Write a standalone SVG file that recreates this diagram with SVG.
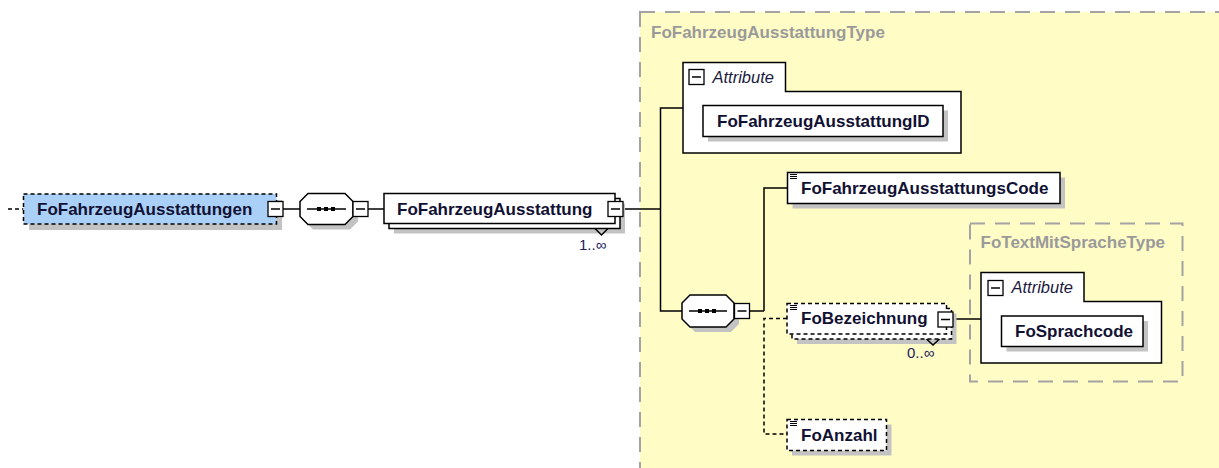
<svg xmlns="http://www.w3.org/2000/svg" width="1219" height="468" viewBox="0 0 1219 468">
<style>
.bg{fill:#ffffff}
.ctype{fill:#fffcc6;stroke:#a3a3a3;stroke-width:2;stroke-dasharray:15 10}
.ctitle{font-family:"Liberation Sans",Arial,sans-serif;font-weight:bold;font-size:17px;fill:#9a9a9a}
.box{fill:#ffffff;stroke:#000000;stroke-width:1.5}
.dbox{fill:#ffffff;stroke:#000000;stroke-width:1.5;stroke-dasharray:4 3}
.blue{fill:#abd0f7;stroke:#000000;stroke-width:1.5;stroke-dasharray:4 3}
.shadow{fill:#c3c3c3}
.name{font-family:"Liberation Sans",Arial,sans-serif;font-weight:bold;font-size:17px;fill:#111133}
.attr{font-family:"Liberation Sans",Arial,sans-serif;font-style:italic;font-size:16.5px;fill:#1a1a40}
.mult{font-family:"Liberation Sans",Arial,sans-serif;font-size:15px;fill:#202060}
.ln{fill:none;stroke:#000000;stroke-width:1.5}
.dln{fill:none;stroke:#000000;stroke-width:1.5;stroke-dasharray:4 3}
.minus{fill:#ffffff;stroke:#000000;stroke-width:1.3}
.dot{fill:#000000}
</style>
<defs>
<g id="minusIcon">
<rect class="minus" x="0" y="0" width="15" height="15"/>
<line class="ln" x1="3" y1="7.5" x2="12" y2="7.5"/>
</g>
<g id="lines3">
<line x1="0" y1="0.5" x2="7" y2="0.5" stroke="#000" stroke-width="1"/>
<line x1="0" y1="2.5" x2="7" y2="2.5" stroke="#000" stroke-width="1"/>
<line x1="0" y1="4.5" x2="7" y2="4.5" stroke="#000" stroke-width="1"/>
</g>
</defs>
<rect class="bg" x="0" y="0" width="1219" height="468"/>

<!-- complex type region -->
<g id="FoFahrzeugAusstattungType">
<rect class="ctype" x="640" y="12" width="620" height="500"/>
<text class="ctitle" x="651" y="38">FoFahrzeugAusstattungType</text>
</g>

<g id="FoTextMitSpracheType">
<rect class="ctype" x="970" y="223.5" width="212.5" height="158"/>
<text class="ctitle" x="980.5" y="248">FoTextMitSpracheType</text>
</g>

<!-- connectors -->
<g id="connectors">
<line class="dln" x1="8" y1="209" x2="23.5" y2="209"/>
<line class="ln" x1="283" y1="209" x2="300" y2="209"/>
<line class="ln" x1="368" y1="209" x2="384" y2="209"/>
<line class="ln" x1="623" y1="209" x2="660.5" y2="209"/>
<path class="ln" d="M683,108 H660.5 V311 H682"/>
<line class="ln" x1="749.5" y1="311" x2="764" y2="311"/>
<path class="ln" d="M787.5,188 H764 V311"/>
<path class="dln" d="M787,318.5 H764 V434 H787"/>
<line class="ln" x1="953" y1="319" x2="981" y2="319"/>
</g>

<!-- root element -->
<g id="FoFahrzeugAusstattungen">
<rect class="shadow" x="29" y="200" width="253" height="30"/>
<rect class="blue" x="23.5" y="194" width="253" height="30"/>
<text class="name" x="37" y="215">FoFahrzeugAusstattungen</text>
<use href="#minusIcon" x="268" y="201.5"/>
</g>

<!-- sequence 1 -->
<g id="sequence1">
<polygon class="shadow" points="313,198.5 350,198.5 358,206.5 358,221.5 350,229.5 313,229.5 305,221.5 305,206.5"/>
<polygon class="box" points="308,193.5 345,193.5 353,201.5 353,216.5 345,224.5 308,224.5 300,216.5 300,201.5"/>
<line class="ln" x1="307" y1="209" x2="346" y2="209"/>
<rect class="dot" x="317" y="207" width="4" height="4"/>
<rect class="dot" x="324" y="207" width="4" height="4"/>
<rect class="dot" x="331" y="207" width="4" height="4"/>
<use href="#minusIcon" x="353" y="201.5"/>
</g>

<!-- FoFahrzeugAusstattung -->
<g id="FoFahrzeugAusstattung">
<rect class="shadow" x="394" y="203.5" width="231" height="30"/>
<rect class="box" x="389" y="198.5" width="231" height="30"/>
<rect class="box" x="384" y="193.5" width="231" height="30"/>
<text class="name" x="397" y="215">FoFahrzeugAusstattung</text>
<use href="#minusIcon" x="608" y="201.5"/>
<polyline class="ln" points="595,228.5 601.5,235 608,228.5"/>
<text class="mult" x="579" y="250">1..∞</text>
</g>

<!-- attribute group 1 -->
<g id="Attribute1">
<path class="box" d="M683,62.5 H785.5 V91.5 H961 V153 H683 Z"/>
<use href="#minusIcon" x="689" y="69.5"/>
<text class="attr" x="712.5" y="83">Attribute</text>
</g>

<g id="FoFahrzeugAusstattungID">
<rect class="shadow" x="708" y="110.5" width="240" height="31"/>
<rect class="box" x="703" y="105.5" width="240" height="31"/>
<text class="name" x="717" y="127">FoFahrzeugAusstattungID</text>
</g>

<!-- sequence 2 -->
<g id="sequence2">
<polygon class="shadow" points="695,300 731,300 739,308 739,324 731,332 695,332 687,324 687,308"/>
<polygon class="box" points="690,295 726,295 734,303 734,319 726,327 690,327 682,319 682,303"/>
<line class="ln" x1="689" y1="311" x2="727" y2="311"/>
<rect class="dot" x="698" y="309" width="4" height="4"/>
<rect class="dot" x="705" y="309" width="4" height="4"/>
<rect class="dot" x="712" y="309" width="4" height="4"/>
<use href="#minusIcon" x="734.5" y="303.5"/>
</g>

<g id="FoFahrzeugAusstattungsCode">
<rect class="shadow" x="792.5" y="177.5" width="272.5" height="31"/>
<rect class="box" x="787.5" y="172.5" width="272.5" height="31"/>
<use href="#lines3" x="790" y="174"/>
<text class="name" x="801" y="194">FoFahrzeugAusstattungsCode</text>
</g>

<g id="FoBezeichnung">
<rect class="shadow" x="797" y="313.5" width="159.5" height="30.5"/>
<rect class="dbox" x="792" y="308.5" width="159.5" height="30.5"/>
<rect class="dbox" x="787" y="303.5" width="159.5" height="30.5"/>
<use href="#lines3" x="790" y="305"/>
<text class="name" x="801" y="324">FoBezeichnung</text>
<use href="#minusIcon" x="938" y="312"/>
<polyline class="ln" points="926.5,339 933,345 939.5,339"/>
<text class="mult" x="907" y="358">0..∞</text>
</g>

<g id="Attribute2">
<path class="box" d="M981,272.5 H1084 V301.5 H1161.5 V363 H981 Z"/>
<use href="#minusIcon" x="988" y="280.5"/>
<text class="attr" x="1011.5" y="293">Attribute</text>
</g>

<g id="FoSprachcode">
<rect class="shadow" x="1006.5" y="321" width="141.5" height="30.5"/>
<rect class="box" x="1001.5" y="316" width="141.5" height="30.5"/>
<text class="name" x="1015" y="337">FoSprachcode</text>
</g>

<g id="FoAnzahl">
<rect class="shadow" x="792" y="424.5" width="99.5" height="31"/>
<rect class="dbox" x="787" y="419.5" width="99.5" height="31"/>
<use href="#lines3" x="790" y="421"/>
<text class="name" x="801" y="441">FoAnzahl</text>
</g>
</svg>
